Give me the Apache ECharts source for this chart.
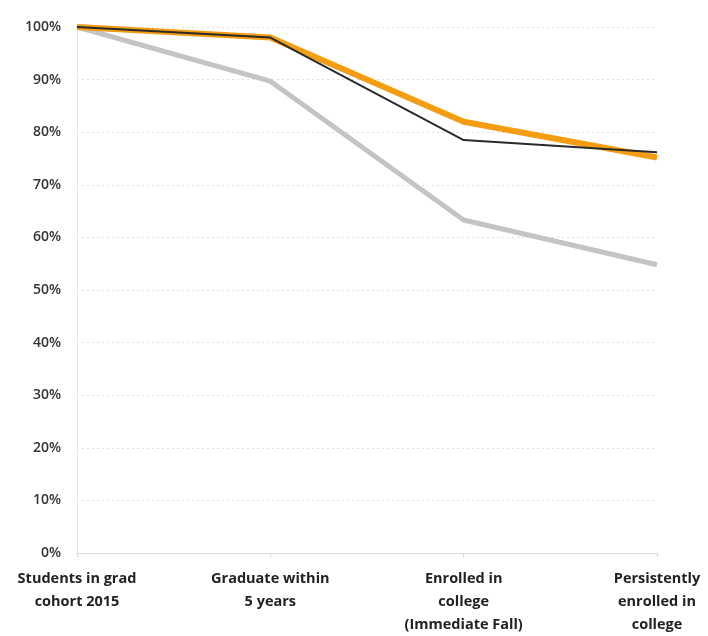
<!DOCTYPE html>
<html><head><meta charset="utf-8">
<script src="https://cdn.jsdelivr.net/npm/echarts@6/dist/echarts.min.js"></script>
<style>html,body{margin:0;padding:0;background:#fff}#c{width:708px;height:636px}</style>
</head><body><div id="c"></div>
<script>
var categories = ["Students in grad\ncohort 2015", "Graduate within\n5 years", "Enrolled in\ncollege\n(Immediate Fall)", "Persistently\nenrolled in\ncollege"];
var orangeValues = [100, 98, 82, 75.2];
var blackValues = [100, 98, 78.5, 76.2];
var grayValues = [100, 89.7, 63.3, 54.8];
var yTicks = [0, 10, 20, 30, 40, 50, 60, 70, 80, 90, 100];

var chart = echarts.init(document.getElementById('c'));
chart.setOption({
  animation: false,
  grid: {left: 77, right: 51, top: 27, bottom: 82},
  xAxis: {
    type: 'category', data: categories, boundaryGap: false,
    axisLine: {lineStyle: {color: '#d9d9d9'}},
    axisTick: {show: true, length: 4, lineStyle: {color: '#d9d9d9'}},
    axisLabel: {color: '#222', fontFamily: 'Open Sans', fontWeight: 'bold', fontSize: 14.5, lineHeight: 23, margin: 14, interval: 0}
  },
  yAxis: {
    type: 'value', min: 0, max: 100, interval: 10,
    axisLine: {show: true, lineStyle: {color: '#e4e4e4'}},
    axisTick: {show: false},
    splitLine: {lineStyle: {color: '#e0e0e0', type: [2, 3]}},
    axisLabel: {color: '#333', fontFamily: 'Open Sans', fontWeight: 600, fontSize: 14, margin: 16, formatter: function(v){return v + '%';}}
  },
  series: [
    {type: 'line', data: grayValues, symbol: 'none', lineStyle: {color: '#c4c4c4', width: 5}, z: 2},
    {type: 'line', data: orangeValues, symbol: 'none', lineStyle: {color: '#f59d12', width: 6}, z: 3},
    {type: 'line', data: blackValues, symbol: 'none', lineStyle: {color: '#2a2a2a', width: 2}, z: 4}
  ]
});
</script></body></html>
